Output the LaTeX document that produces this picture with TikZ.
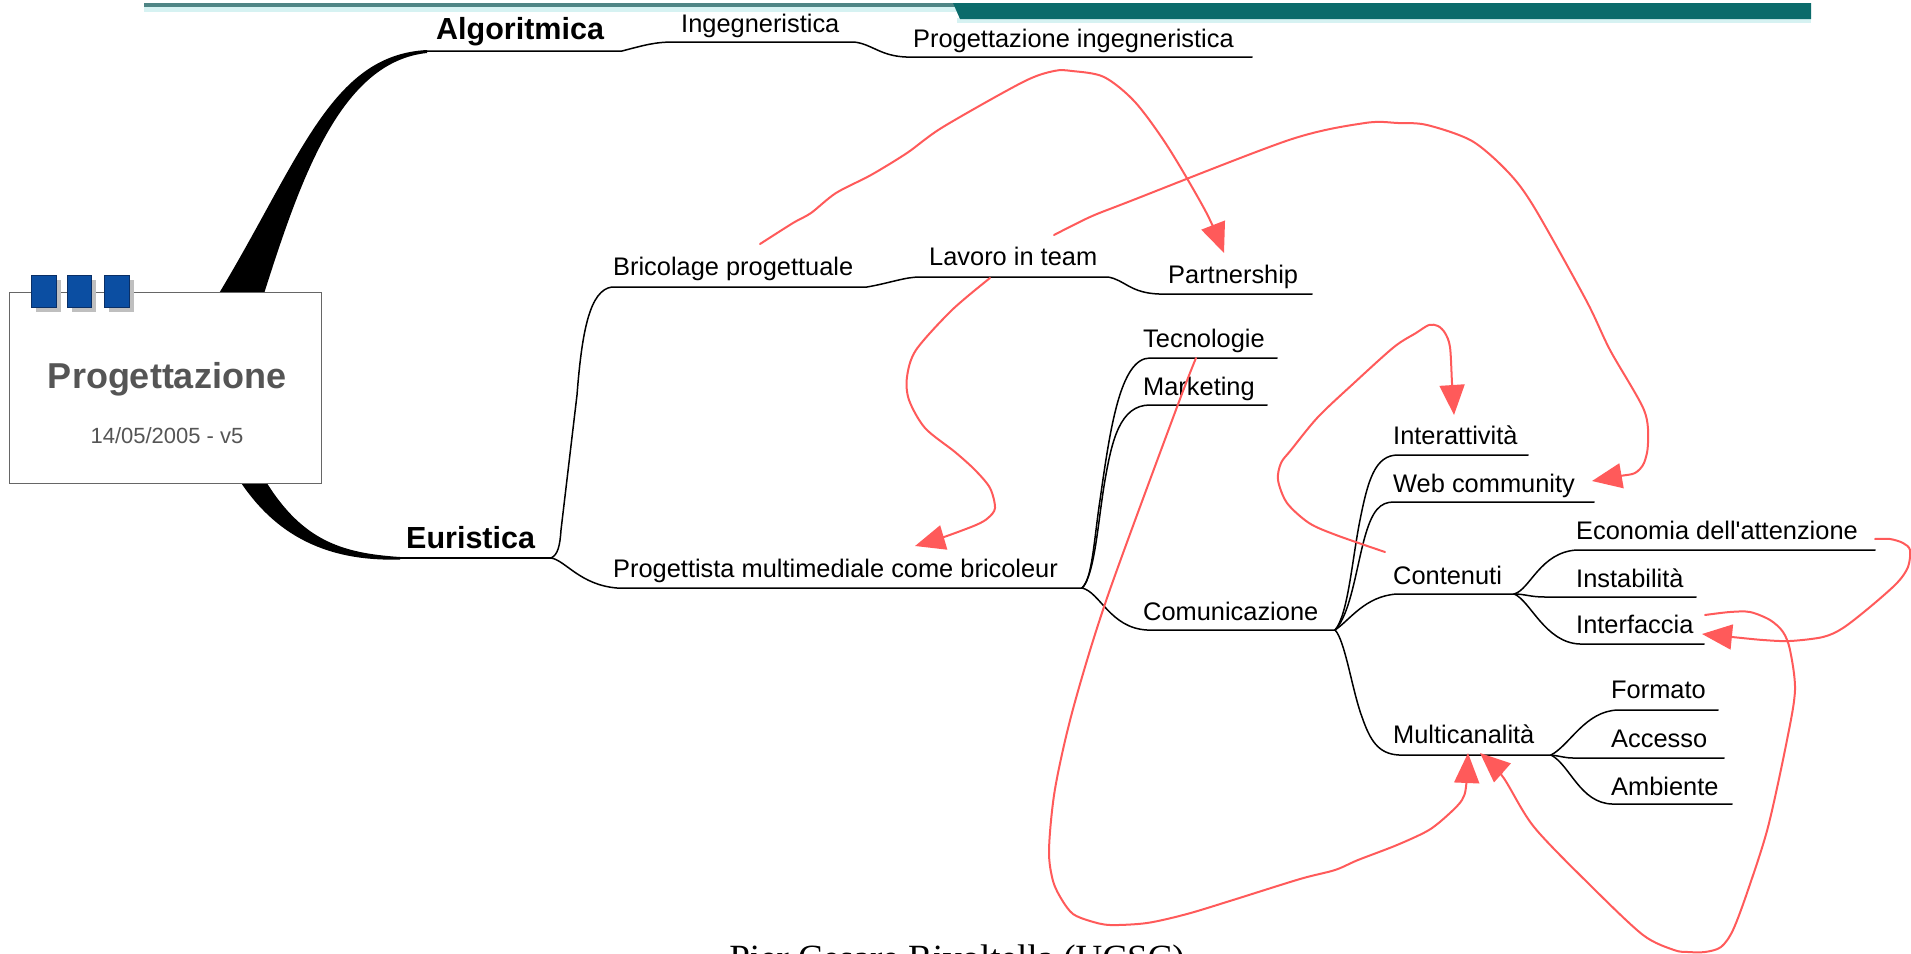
\documentclass[tikz,border=0pt]{standalone}
\usepackage{fontspec}
\setmainfont{Liberation Sans}[Ligatures=TeXOff]
\newfontfamily\serifont{Liberation Serif}
\usetikzlibrary{arrows.meta}
\definecolor{redc}{HTML}{FF5A5A}
\definecolor{boxgrey}{HTML}{555555}
\definecolor{bluesq}{HTML}{0B4EA2}
\definecolor{bluedk}{HTML}{0A2F66}
\definecolor{tealbar}{HTML}{0B6B6B}
\definecolor{tealline}{HTML}{4F8585}
\definecolor{tealpale}{HTML}{D6F2F2}
\begin{document}
\begin{tikzpicture}[x=1pt,y=-1pt,
  lbl/.style={anchor=base west, inner sep=0pt, font=\fontsize{25.4}{30}\selectfont},
  head/.style={anchor=base west, inner sep=0pt, font=\fontsize{30.5}{36}\selectfont\bfseries},
  branch/.style={draw=black, line width=1.5pt, line cap=round, line join=round},
  redarrow/.style={draw=redc, line width=2pt, line join=round, line cap=round,
     -{Triangle[length=30pt,width=25pt]}},
  sq/.style={fill=bluesq, draw=bluedk, line width=1pt},
  sqshadow/.style={fill=black!25, draw=none}]
\useasboundingbox (0,0) rectangle (1911,953);

% top banner
\fill[tealpale] (144,6) rectangle (957,12);
\fill[tealline] (144,3) rectangle (957,7);
\fill[tealpale] (957,18) rectangle (1811,23);
\fill[tealbar] (953,3) -- (1811,3) -- (1811,19) -- (960,19) -- cycle;

% thick branches (behind box)
\fill[black] (215,300) .. controls (300,160) and (330,55) .. (427,50)
   -- (427,53) .. controls (340,62) and (300,180) .. (262,300) -- cycle;
\fill[black] (262,475) .. controls (300,540) and (340,553) .. (400,557)
   -- (400,559.5) .. controls (320,562) and (270,530) .. (236,475) -- cycle;

% central box
\node[draw=black!60, line width=1pt, fill=white, minimum width=312pt, minimum height=191pt,
      inner sep=0pt, anchor=north west] (root) at (9,292) {};
\fill[sqshadow] (36,280) rectangle (61,312);
\fill[sqshadow] (72,280) rectangle (96,312);
\fill[sqshadow] (109,280) rectangle (134,312);
\node[sq, minimum width=25pt, minimum height=32pt, inner sep=0pt, anchor=north west] (sq1) at (31,275) {};
\node[sq, minimum width=24pt, minimum height=32pt, inner sep=0pt, anchor=north west] (sq2) at (67,275) {};
\node[sq, minimum width=25pt, minimum height=32pt, inner sep=0pt, anchor=north west] (sq3) at (104,275) {};
\node[anchor=base, inner sep=0pt, text=boxgrey, font=\fontsize{36}{42}\selectfont\bfseries] (title) at (167,388) {Progettazione};
\node[anchor=base, inner sep=0pt, text=boxgrey, font=\fontsize{22}{26}\selectfont] (date) at (167,443) {14/05/2005 - v5};

% coordinates of the map
\coordinate (alg0) at (426,51);   \coordinate (alg1) at (622,51);
\coordinate (ing0) at (674,42);   \coordinate (ing1) at (854,42);
\coordinate (pin0) at (906,57);   \coordinate (pin1) at (1252,57);
\coordinate (eur0) at (396,558);  \coordinate (eur1) at (551,558);
\coordinate (bri0) at (612,287);  \coordinate (bri1) at (867,287);
\coordinate (lav0) at (920,277);  \coordinate (lav1) at (1108,277);
\coordinate (par0) at (1159,294); \coordinate (par1) at (1312,294);
\coordinate (pro0) at (617,588);  \coordinate (pro1) at (1082,588);
\coordinate (tec0) at (1150,358); \coordinate (tec1) at (1277,358);
\coordinate (mar0) at (1150,405); \coordinate (mar1) at (1267,405);
\coordinate (com0) at (1147,630); \coordinate (com1) at (1335,630);
\coordinate (int0) at (1398,455); \coordinate (int1) at (1528,455);
\coordinate (web0) at (1394,502); \coordinate (web1) at (1594,502);
\coordinate (con0) at (1397,594); \coordinate (con1) at (1514,594);
\coordinate (mul0) at (1399,755); \coordinate (mul1) at (1551,755);
\coordinate (eco0) at (1577,550); \coordinate (eco1) at (1875,550);
\coordinate (ins0) at (1545,597); \coordinate (ins1) at (1696,597);
\coordinate (inf0) at (1580,644); \coordinate (inf1) at (1704,644);
\coordinate (for0) at (1618,710); \coordinate (for1) at (1718,710);
\coordinate (acc0) at (1573,758); \coordinate (acc1) at (1724,758);
\coordinate (amb0) at (1612,804); \coordinate (amb1) at (1732,804);

% black branches
\draw[branch] (alg0) -- (alg1) .. controls (645,45) and (655,42) .. (ing0) -- (ing1)
   .. controls (872,44) and (880,56) .. (pin0) -- (pin1);
\draw[branch] (eur0) -- (eur1);
\draw[branch] (eur1) .. controls (558,555) and (560,545) .. (561,530) -- (577,395)
   .. controls (582,330) and (590,290) .. (bri0) -- (bri1)
   .. controls (890,283) and (905,277) .. (lav0) -- (lav1)
   .. controls (1125,280) and (1130,293) .. (par0) -- (par1);
\draw[branch] (eur1) .. controls (565,560) and (580,585) .. (pro0) -- (pro1);
\draw[branch] (pro1) .. controls (1092,580) and (1094,540) .. (1100,500)
   .. controls (1110,430) and (1120,358) .. (tec0) -- (tec1);
\draw[branch] (pro1) .. controls (1095,575) and (1098,520) .. (1105,480)
   .. controls (1112,440) and (1120,405) .. (mar0) -- (mar1);
\draw[branch] (pro1) .. controls (1100,592) and (1110,628) .. (com0) -- (com1);
\draw[branch] (com1) .. controls (1348,615) and (1352,560) .. (1360,520)
   .. controls (1368,480) and (1375,455) .. (int0) -- (int1);
\draw[branch] (com1) .. controls (1350,615) and (1356,570) .. (1364,540)
   .. controls (1372,510) and (1380,502) .. (web0) -- (web1);
\draw[branch] (com1) .. controls (1350,620) and (1365,596) .. (con0) -- (con1);
\draw[branch] (com1) .. controls (1345,640) and (1352,690) .. (1362,717)
   .. controls (1370,740) and (1378,754) .. (mul0) -- (mul1);
\draw[branch] (con1) .. controls (1530,590) and (1540,552) .. (eco0) -- (eco1);
\draw[branch] (con1) .. controls (1525,594) and (1530,597) .. (ins0) -- (ins1);
\draw[branch] (con1) .. controls (1530,600) and (1545,643) .. (inf0) -- (inf1);
\draw[branch] (mul1) .. controls (1570,745) and (1585,711) .. (for0) -- (for1);
\draw[branch] (mul1) .. controls (1560,756) and (1565,758) .. (acc0) -- (acc1);
\draw[branch] (mul1) .. controls (1570,765) and (1580,803) .. (amb0) -- (amb1);

% labels
\node[head] (Alg) at (436,39) {Algoritmica};
\node[lbl] (Ing) at (681,32) {Ingegneristica};
\node[lbl] (PIng) at (913,47) {Progettazione ingegneristica};
\node[head] (Eur) at (406,548) {Euristica};
\node[lbl] (Bri) at (613,275) {Bricolage progettuale};
\node[lbl] (Lav) at (929,265) {Lavoro in team};
\node[lbl] (Par) at (1168,283) {Partnership};
\node[lbl] (Pro) at (613,577) {Progettista multimediale come bricoleur};
\node[lbl] (Tec) at (1143,347) {Tecnologie};
\node[lbl] (Mar) at (1143,395) {Marketing};
\node[lbl] (Com) at (1143,620) {Comunicazione};
\node[lbl] (Int) at (1393,444) {Interattività};
\node[lbl] (Web) at (1393,492) {Web community};
\node[lbl] (Con) at (1393,584) {Contenuti};
\node[lbl] (Mul) at (1393,743) {Multicanalità};
\node[lbl] (Eco) at (1576,539) {Economia dell'attenzione};
\node[lbl] (Ins) at (1576,587) {Instabilità};
\node[lbl] (Inf) at (1576,633) {Interfaccia};
\node[lbl] (For) at (1611,698) {Formato};
\node[lbl] (Acc) at (1611,747) {Accesso};
\node[lbl] (Amb) at (1611,795) {Ambiente};

\node[anchor=base, inner sep=0pt, font=\serifont\fontsize{37}{44}\selectfont] (author) at (957,970) {Pier Cesare Rivoltella (UCSC)};

% red arrows
\coordinate (r1s) at (760,244);  \coordinate (r1e) at (1224,253);
\coordinate (r2s) at (1054,235); \coordinate (r2e) at (1592,481);
\coordinate (r3s) at (990,278);  \coordinate (r3e) at (915,546);
\coordinate (r4s) at (1385,552); \coordinate (r4e) at (1454,415);
\coordinate (r5s) at (1196,358); \coordinate (r5e) at (1468,753);
\coordinate (r6s) at (1705,615); \coordinate (r6e) at (1480,753);
\coordinate (r7s) at (1875,539); \coordinate (r7e) at (1702,634);

\draw[redarrow] plot[smooth, tension=0.5] coordinates {(r1s) (793,223) (811,213) (836,193) (871,175) (907,153) (943,127) (1023,82) (1054,71) (1072,71) (1104,77) (1135,102) (1168,147) (1206,212) (r1e)};
\draw[redarrow] plot[smooth, tension=0.5] coordinates {(r2s) (1090,217) (1128,202) (1289,140) (1365,123) (1398,123) (1427,125) (1472,141) (1508,172) (1534,207) (1586,300) (1610,350) (1644,410) (1648,443) (1644,463) (1635,473) (1620,476) (r2e)};
\draw[redarrow] plot[smooth, tension=0.5] coordinates {(r3s) (952,310) (916,350) (907,377) (909,400) (925,428) (955,452) (975,470) (990,488) (995,508) (988,518) (976,525) (944,537) (r3e)};
\draw[redarrow] plot[smooth, tension=0.5] coordinates {(r4s) (1336,535) (1309,523) (1287,503) (1278,480) (1281,463) (1291,450) (1318,417) (1354,383) (1394,347) (1416,333) (1429,325) (1438,326) (1445,333) (1450,347) (1452,383) (r4e)};
\draw[redarrow] plot[smooth, tension=0.5] coordinates {(r5s) (1177,407) (1107,598) (1073,709) (1055,789) (1049,850) (1053,881) (1062,900) (1073,914) (1090,921) (1110,925) (1147,923) (1187,914) (1233,900) (1300,879) (1335,870) (1358,860) (1397,845) (1429,830) (1450,813) (1462,800) (1466,787) (r5e)};
\draw[redarrow] plot[smooth, tension=0.5] coordinates {(r6s) (1730,612) (1750,612) (1770,620) (1783,632) (1790,650) (1795,690) (1787,740) (1768,827) (1748,890) (1733,930) (1721,947) (1705,952) (1688,952) (1674,950) (1643,935) (1592,887) (1534,827) (1503,777) (r6e)};
\draw[redarrow] plot[smooth, tension=0.5] coordinates {(r7s) (1890,539) (1903,543) (1910,550) (1908,567) (1897,583) (1870,607) (1843,628) (1823,637) (1790,641) (1763,640) (1732,637) (r7e)};
\end{tikzpicture}
\end{document}
